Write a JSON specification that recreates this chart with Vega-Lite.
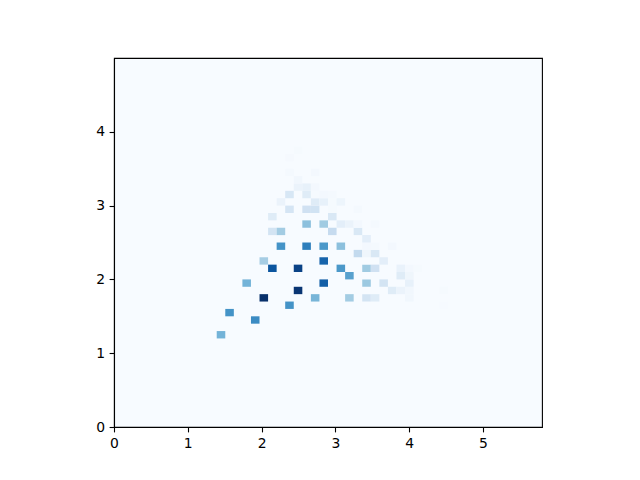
{"$schema":"https://vega.github.io/schema/vega-lite/v6.json","width":428,"height":369,"autosize":{"type":"none"},"padding":{"left":114,"top":58,"right":98,"bottom":53},"background":"white","view":{"fill":"#f7fbff","stroke":"black","strokeWidth":1.1},
"data":{"values":[
{"x":1.392,"x2":1.508,"y":1.2,"y2":1.3,"v":0.48},
{"x":1.508,"x2":1.624,"y":1.5,"y2":1.6,"v":0.62},
{"x":1.74,"x2":1.856,"y":1.9,"y2":2.0,"v":0.48},
{"x":1.856,"x2":1.972,"y":1.4,"y2":1.5,"v":0.65},
{"x":1.972,"x2":2.088,"y":1.7,"y2":1.8,"v":1.0},
{"x":1.972,"x2":2.088,"y":2.2,"y2":2.3,"v":0.35},
{"x":2.088,"x2":2.204,"y":2.1,"y2":2.2,"v":0.86},
{"x":2.088,"x2":2.204,"y":2.6,"y2":2.7,"v":0.18},
{"x":2.088,"x2":2.204,"y":2.8,"y2":2.9,"v":0.12},
{"x":2.204,"x2":2.32,"y":2.4,"y2":2.5,"v":0.62},
{"x":2.204,"x2":2.32,"y":2.6,"y2":2.7,"v":0.36},
{"x":2.204,"x2":2.32,"y":3.0,"y2":3.1,"v":0.06},
{"x":2.32,"x2":2.436,"y":1.6,"y2":1.7,"v":0.62},
{"x":2.32,"x2":2.436,"y":2.9,"y2":3.0,"v":0.17},
{"x":2.32,"x2":2.436,"y":3.1,"y2":3.2,"v":0.16},
{"x":2.32,"x2":2.436,"y":3.4,"y2":3.5,"v":0.015},
{"x":2.32,"x2":2.436,"y":3.6,"y2":3.7,"v":0.012},
{"x":2.436,"x2":2.552,"y":1.8,"y2":1.9,"v":0.98},
{"x":2.436,"x2":2.552,"y":2.1,"y2":2.2,"v":0.93},
{"x":2.436,"x2":2.552,"y":3.2,"y2":3.3,"v":0.06},
{"x":2.436,"x2":2.552,"y":3.3,"y2":3.4,"v":0.03},
{"x":2.436,"x2":2.552,"y":3.7,"y2":3.8,"v":0.008},
{"x":2.552,"x2":2.668,"y":2.4,"y2":2.5,"v":0.7},
{"x":2.552,"x2":2.668,"y":2.7,"y2":2.8,"v":0.42},
{"x":2.552,"x2":2.668,"y":2.9,"y2":3.0,"v":0.2},
{"x":2.552,"x2":2.668,"y":3.1,"y2":3.2,"v":0.12},
{"x":2.552,"x2":2.668,"y":3.2,"y2":3.3,"v":0.08},
{"x":2.668,"x2":2.784,"y":1.7,"y2":1.8,"v":0.47},
{"x":2.668,"x2":2.784,"y":2.9,"y2":3.0,"v":0.19},
{"x":2.668,"x2":2.784,"y":3.0,"y2":3.1,"v":0.12},
{"x":2.668,"x2":2.784,"y":3.1,"y2":3.2,"v":0.01},
{"x":2.668,"x2":2.784,"y":3.2,"y2":3.3,"v":0.02},
{"x":2.668,"x2":2.784,"y":3.4,"y2":3.5,"v":0.02},
{"x":2.784,"x2":2.9,"y":1.9,"y2":2.0,"v":0.82},
{"x":2.784,"x2":2.9,"y":2.2,"y2":2.3,"v":0.8},
{"x":2.784,"x2":2.9,"y":2.4,"y2":2.5,"v":0.6},
{"x":2.784,"x2":2.9,"y":2.7,"y2":2.8,"v":0.37},
{"x":2.784,"x2":2.9,"y":3.0,"y2":3.1,"v":0.08},
{"x":2.784,"x2":2.9,"y":3.1,"y2":3.2,"v":0.02},
{"x":2.9,"x2":3.016,"y":2.6,"y2":2.7,"v":0.25},
{"x":2.9,"x2":3.016,"y":2.8,"y2":2.9,"v":0.15},
{"x":2.9,"x2":3.016,"y":2.9,"y2":3.0,"v":0.01},
{"x":2.9,"x2":3.016,"y":3.0,"y2":3.1,"v":0.01},
{"x":2.9,"x2":3.016,"y":3.1,"y2":3.2,"v":0.015},
{"x":3.016,"x2":3.132,"y":2.1,"y2":2.2,"v":0.6},
{"x":3.016,"x2":3.132,"y":2.4,"y2":2.5,"v":0.42},
{"x":3.016,"x2":3.132,"y":2.7,"y2":2.8,"v":0.1},
{"x":3.016,"x2":3.132,"y":3.0,"y2":3.1,"v":0.05},
{"x":3.132,"x2":3.248,"y":1.7,"y2":1.8,"v":0.36},
{"x":3.132,"x2":3.248,"y":2.0,"y2":2.1,"v":0.56},
{"x":3.132,"x2":3.248,"y":2.7,"y2":2.8,"v":0.06},
{"x":3.248,"x2":3.364,"y":2.3,"y2":2.4,"v":0.26},
{"x":3.248,"x2":3.364,"y":2.6,"y2":2.7,"v":0.15},
{"x":3.248,"x2":3.364,"y":2.7,"y2":2.8,"v":0.02},
{"x":3.248,"x2":3.364,"y":2.9,"y2":3.0,"v":0.015},
{"x":3.364,"x2":3.48,"y":1.7,"y2":1.8,"v":0.18},
{"x":3.364,"x2":3.48,"y":1.9,"y2":2.0,"v":0.38},
{"x":3.364,"x2":3.48,"y":2.1,"y2":2.2,"v":0.37},
{"x":3.364,"x2":3.48,"y":2.3,"y2":2.4,"v":0.04},
{"x":3.364,"x2":3.48,"y":2.4,"y2":2.5,"v":0.02},
{"x":3.364,"x2":3.48,"y":2.5,"y2":2.6,"v":0.1},
{"x":3.48,"x2":3.596,"y":1.7,"y2":1.8,"v":0.12},
{"x":3.48,"x2":3.596,"y":2.1,"y2":2.2,"v":0.2},
{"x":3.48,"x2":3.596,"y":2.3,"y2":2.4,"v":0.15},
{"x":3.48,"x2":3.596,"y":2.4,"y2":2.5,"v":0.015},
{"x":3.48,"x2":3.596,"y":2.7,"y2":2.8,"v":0.015},
{"x":3.596,"x2":3.712,"y":1.9,"y2":2.0,"v":0.18},
{"x":3.596,"x2":3.712,"y":2.2,"y2":2.3,"v":0.1},
{"x":3.712,"x2":3.828,"y":1.8,"y2":1.9,"v":0.12},
{"x":3.712,"x2":3.828,"y":2.4,"y2":2.5,"v":0.02},
{"x":3.828,"x2":3.944,"y":1.8,"y2":1.9,"v":0.06},
{"x":3.828,"x2":3.944,"y":2.0,"y2":2.1,"v":0.12},
{"x":3.828,"x2":3.944,"y":2.1,"y2":2.2,"v":0.07},
{"x":3.944,"x2":4.06,"y":1.7,"y2":1.8,"v":0.03},
{"x":3.944,"x2":4.06,"y":1.8,"y2":1.9,"v":0.03},
{"x":3.944,"x2":4.06,"y":1.9,"y2":2.0,"v":0.08},
{"x":3.944,"x2":4.06,"y":2.0,"y2":2.1,"v":0.04},
{"x":3.944,"x2":4.06,"y":2.1,"y2":2.2,"v":0.02},
{"x":4.06,"x2":4.176,"y":2.1,"y2":2.2,"v":0.01},
{"x":4.408,"x2":4.524,"y":1.8,"y2":1.9,"v":0.01},
{"x":4.408,"x2":4.524,"y":1.6,"y2":1.7,"v":0.005}
]},
"mark":{"type":"rect","strokeWidth":0},
"encoding":{
"x":{"field":"x","type":"quantitative","title":null,"scale":{"domain":[0,5.8],"nice":false,"zero":false},"axis":{"values":[0,1,2,3,4,5],"grid":false,"format":"d","labelFont":"DejaVu Sans","labelFontSize":13.9,"labelColor":"black","labelPadding":4.5,"labelFlush":false,"labelOverlap":false,"tickColor":"black","tickSize":4.9,"tickWidth":1.1,"domainColor":"black","domainWidth":1.1}},
"x2":{"field":"x2"},
"y":{"field":"y","type":"quantitative","title":null,"scale":{"domain":[0,5],"nice":false,"zero":false},"axis":{"values":[0,1,2,3,4],"grid":false,"format":"d","labelFont":"DejaVu Sans","labelFontSize":13.9,"labelColor":"black","labelPadding":4.5,"labelOverlap":false,"tickColor":"black","tickSize":4.9,"tickWidth":1.1,"domainColor":"black","domainWidth":1.1}},
"y2":{"field":"y2"},
"color":{"field":"v","type":"quantitative","legend":null,"scale":{"domain":[0,0.125,0.25,0.375,0.5,0.625,0.75,0.875,1],"range":["#f7fbff","#deebf7","#c6dbef","#9ecae1","#6baed6","#4292c6","#2171b5","#08519c","#08306b"]}}
}
}
